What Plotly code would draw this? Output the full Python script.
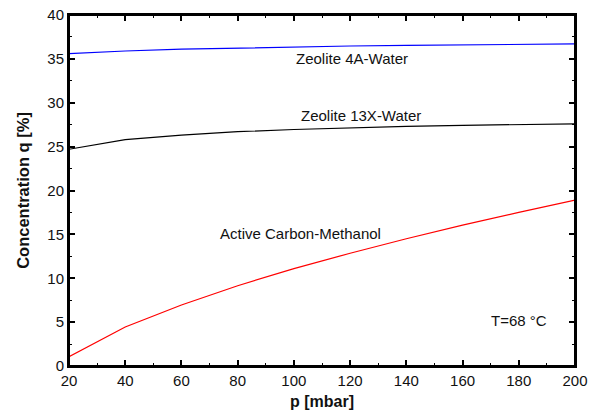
import plotly.graph_objects as go

p = [20, 40, 60, 80, 100, 120, 140, 160, 180, 200]
q_4a = [35.6, 35.9, 36.1, 36.25, 36.38, 36.47, 36.54, 36.6, 36.65, 36.7]
q_13x = [24.7, 25.8, 26.3, 26.7, 26.95, 27.15, 27.3, 27.42, 27.52, 27.6]
q_ac = [1.05, 4.45, 6.95, 9.15, 11.1, 12.85, 14.5, 16.05, 17.5, 18.9]

labels = ["Zeolite 4A-Water", "Zeolite 13X-Water", "Active Carbon-Methanol", "T=68 °C"]
label_x = [120.7, 123.7, 102.2, 180]
label_y = [35.0, 28.5, 15.15, 5.24]

FONT = "Liberation Sans, Arial"

fig = go.Figure()
fig.add_trace(go.Scatter(x=p, y=q_4a, mode="lines", line=dict(color="#0000ff", width=1.2)))
fig.add_trace(go.Scatter(x=p, y=q_13x, mode="lines", line=dict(color="#000000", width=1.2)))
fig.add_trace(go.Scatter(x=p, y=q_ac, mode="lines", line=dict(color="#ff0000", width=1.2)))
fig.add_trace(go.Scatter(x=[p[0]], y=[q_ac[0]], xaxis="x2", yaxis="y2", mode="markers",
                         marker=dict(opacity=0), hoverinfo="skip"))

for t, x, y in zip(labels, label_x, label_y):
    fig.add_annotation(x=x, y=y, text=t, showarrow=False,
                       font=dict(family=FONT, size=15, color="#111"))

fig.add_shape(type="rect", xref="paper", yref="paper", x0=0, y0=0, x1=1, y1=1,
              line=dict(color="black", width=2), fillcolor="rgba(0,0,0,0)", layer="above")

common = dict(showgrid=False, zeroline=False, showline=True, linecolor="black", linewidth=2,
              ticks="inside", ticklen=6, tickwidth=1.5, tickcolor="black", automargin=False,
              tickfont=dict(family=FONT, size=15, color="#111"))
xminor = dict(ticks="inside", dtick=10, ticklen=3, tickcolor="black", tickwidth=1)
yminor = dict(ticks="inside", dtick=2.5, ticklen=3, tickcolor="black", tickwidth=1)

fig.update_layout(
    width=598, height=415, showlegend=False,
    plot_bgcolor="white", paper_bgcolor="white",
    margin=dict(l=69, r=23, t=15, b=49),
    xaxis=dict(range=[20, 200], dtick=20, tick0=20, minor=xminor,
               title=dict(text="<b>p [mbar]</b>", font=dict(family=FONT, size=16, color="#111"), standoff=8),
               **common),
    yaxis=dict(range=[0, 40], dtick=5, minor=yminor,
               title=dict(text="<b>Concentration q [%]</b>", font=dict(family=FONT, size=16.5, color="#111"), standoff=14),
               **common),
    xaxis2=dict(range=[20, 200], dtick=20, tick0=20, minor=xminor, overlaying="x", side="top",
                showticklabels=False, **common),
    yaxis2=dict(range=[0, 40], dtick=5, minor=yminor, overlaying="y", side="right",
                showticklabels=False, **common),
)
fig.write_html("out.html")
